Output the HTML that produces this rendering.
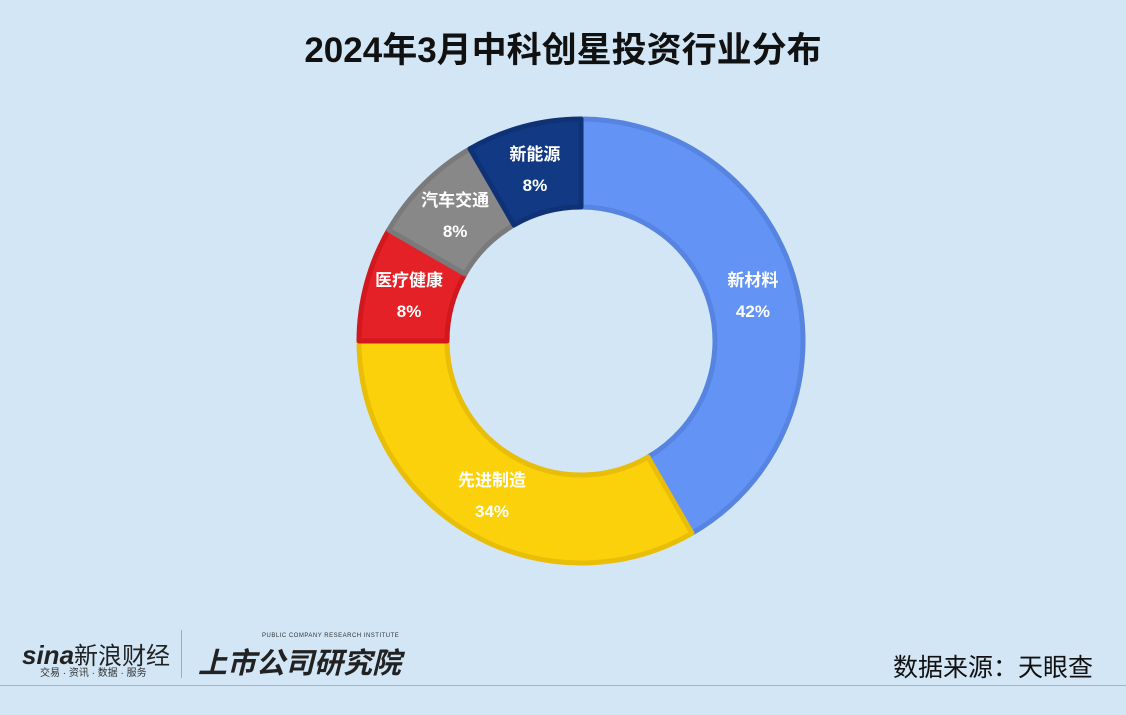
<!DOCTYPE html>
<html><head><meta charset="utf-8"><style>
body{margin:0;width:1126px;height:715px;background:#d2e6f5;font-family:"Liberation Sans","Noto Sans CJK SC",sans-serif;position:relative;overflow:hidden}
.t{position:absolute}
</style></head><body>
<div class="t" style="left:0;width:1126px;top:22px;text-align:center;font-size:35px;font-weight:bold;color:#111">2024年3月中科创星投资行业分布</div>
<svg id="c" width="1126" height="715" style="position:absolute;left:0;top:0"></svg>
<div class="t" style="left:22px;top:636px;font-size:26px;font-weight:bold;font-style:italic;color:#222">sina<span style="font-style:normal;font-weight:normal;font-size:24px">新浪财经</span></div>
<div class="t" style="left:40px;top:664px;font-size:10px;color:#333">交易 · 资讯 · 数据 · 服务</div>
<div class="t" style="left:181px;top:630px;width:1px;height:48px;background:#aaa"></div>
<div class="t" style="left:262px;top:633px;font-size:6px;color:#333;letter-spacing:0.5px">PUBLIC COMPANY RESEARCH INSTITUTE</div>
<div class="t" style="left:198px;top:640px;font-size:29px;font-weight:bold;font-style:italic;color:#222">上市公司研究院</div>
<div class="t" style="left:893px;top:648px;font-size:25px;color:#111">数据来源：天眼查</div>
<div class="t" style="left:0;top:685px;width:1126px;height:1px;background:#a8b4bf"></div>
<script>
const categories=["新材料","先进制造","医疗健康","汽车交通","新能源"];
const values=[5,4,1,1,1];
const labels=["42%","34%","8%","8%","8%"];
const fills=["#6293f5","#fad10a","#e42127","#888888","#123a84"];
const strokes=["#5684e0","#e8be08","#d0181e","#7a7a7a","#0f3175"];
const svg=document.getElementById('c');const NS='http://www.w3.org/2000/svg';
const cx=581,cy=341,R=222,r=134;
const tot=values.reduce((a,b)=>a+b,0);
function pt(a,rad){return [cx+rad*Math.sin(a),cy-rad*Math.cos(a)];}
let a0=0;
values.forEach((v,i)=>{
 const a1=a0+v/tot*2*Math.PI;const lg=(a1-a0)>Math.PI?1:0;
 const [x1,y1]=pt(a0,R),[x2,y2]=pt(a1,R),[x3,y3]=pt(a1,r),[x4,y4]=pt(a0,r);
 const p=document.createElementNS(NS,'path');
 p.setAttribute('d',`M${x1} ${y1}A${R} ${R} 0 ${lg} 1 ${x2} ${y2}L${x3} ${y3}A${r} ${r} 0 ${lg} 0 ${x4} ${y4}Z`);
 p.setAttribute('fill',fills[i]);p.setAttribute('stroke',strokes[i]);p.setAttribute('stroke-width','5');p.setAttribute('stroke-linejoin','round');
 
 
 svg.appendChild(p);
 const am=(a0+a1)/2;const [lx,ly]=pt(am,(R+r)/2);
 [[categories[i],ly-9],[labels[i],ly+22]].forEach((t,k)=>{
  const tx=document.createElementNS(NS,'text');
  tx.setAttribute('x',lx);tx.setAttribute('y',t[1]);tx.setAttribute('text-anchor','middle');
  tx.setAttribute('fill','#fff');tx.setAttribute('font-size','17');tx.setAttribute('font-weight','bold');
  tx.textContent=t[0];
  
  
  svg.appendChild(tx);
 });
 a0=a1;
});
</script>
</body></html>
